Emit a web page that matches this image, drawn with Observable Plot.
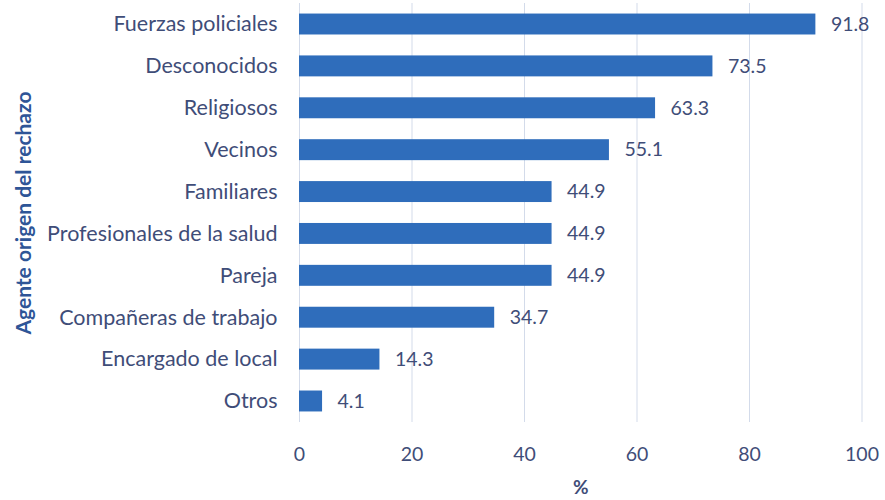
<!DOCTYPE html>
<html>
<head>
<meta charset="utf-8">
<script src="https://cdn.jsdelivr.net/npm/d3@7"></script>
<script src="https://cdn.jsdelivr.net/npm/@observablehq/plot@0.6"></script>
<style>
  html, body { margin: 0; padding: 0; background: #fff; }
  #chart svg { display: block; }
</style>
</head>
<body>
<div id="chart"></div>
<script>
const categories = ["Fuerzas policiales", "Desconocidos", "Religiosos", "Vecinos", "Familiares", "Profesionales de la salud", "Pareja", "Compañeras de trabajo", "Encargado de local", "Otros"];
const values = [91.8, 73.5, 63.3, 55.1, 44.9, 44.9, 44.9, 34.7, 14.3, 4.1];
const xTicks = [0, 20, 40, 60, 80, 100];

const data = categories.map((c, i) => ({agente: c, pct: values[i]}));

const textColor = "#3f4d78";
const chart = Plot.plot({
  width: 885,
  height: 500,
  marginLeft: 299,
  marginRight: 23.5,
  marginTop: 3,
  marginBottom: 78,
  style: {fontFamily: "Lato, 'Open Sans', sans-serif", fontSize: "20px", color: textColor, background: "#fff"},
  x: {domain: [0, 100], ticks: xTicks},
  y: {domain: categories, padding: 0.5, range: [-7.4, 432.4], round: false},
  marks: [
    Plot.gridX(xTicks, {stroke: "#d3dbea", strokeOpacity: 1, strokeWidth: 1}),
    Plot.barX(data, {x: "pct", y: "agente", fill: "#2f6dbb"}),
    Plot.text(data, {x: "pct", y: "agente", text: d => d.pct.toFixed(1), textAnchor: "start", dx: 15, fill: textColor, fontSize: 19.5}),
    Plot.axisX(xTicks, {tickSize: 0, tickPadding: 25, tickFormat: d => String(d), fontSize: 19.5, label: null, fill: textColor}),
    Plot.axisY({tickSize: 0, tickPadding: 22, fontSize: 21.5, fill: textColor, label: null}),
    Plot.text(["%"], {frameAnchor: "bottom", dy: 71, fontWeight: "bold", fill: textColor, fontSize: 19, text: d => d}),
    Plot.text(["Agente origen del rechazo"], {frameAnchor: "left", textAnchor: "middle", dx: -275, rotate: -90, fontWeight: "bold", fill: "#2e5597", fontSize: 21, text: d => d})
  ]
});
document.getElementById("chart").appendChild(chart);
</script>
</body>
</html>
